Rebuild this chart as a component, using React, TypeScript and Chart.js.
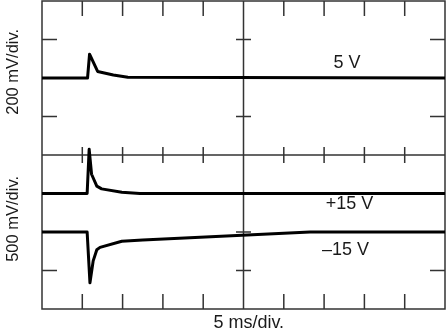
import React, { useEffect, useRef } from "react";
import { Chart, registerables } from "chart.js";

Chart.register(...registerables);

// Oscilloscope screen: 10 horizontal divisions (5 ms/div), 8 vertical divisions
const X_DIVS = 10;
const Y_DIVS = 8;

// 5 V trace (top half, 200 mV/div)
const v5X = [0, 1.13, 1.18, 1.38, 1.77, 2.13, 10];
const v5Y = [6, 6, 6.62, 6.17, 6.08, 6.02, 6];

// +15 V trace (bottom half, 500 mV/div)
const p15X = [0, 1.12, 1.17, 1.23, 1.36, 1.48, 1.98, 2.43, 10];
const p15Y = [3, 3, 4.15, 3.5, 3.19, 3.12, 3.03, 3.0, 3];

// -15 V trace (bottom half, 500 mV/div)
const m15X = [0, 1.12, 1.19, 1.27, 1.36, 1.44, 1.98, 2.5, 6.65, 10];
const m15Y = [2, 2, 0.68, 1.25, 1.54, 1.6, 1.76, 1.79, 2.0, 2.0];

const traceLabels = ["5 V", "+15 V", "\u201315 V"];
const yTitles = ["200 mV/div.", "500 mV/div."];
const xTitle = "5 ms/div.";

const toPts = (xs: number[], ys: number[]) => xs.map((x, i) => ({ x, y: ys[i] }));

const FONT = '18px "Liberation Sans", Arial, Helvetica, sans-serif';
const YFONT = '16.5px "Liberation Sans", Arial, Helvetica, sans-serif';

const scopePlugin = {
  id: "scope",
  beforeDatasetsDraw(chart: any) {
    const { ctx, chartArea } = chart;
    const xs = chart.scales.x;
    const ys = chart.scales.y;
    const L = chartArea.left, R = chartArea.right, T = chartArea.top, B = chartArea.bottom;
    const px = (v: number) => xs.getPixelForValue(v);
    const py = (v: number) => ys.getPixelForValue(v);
    ctx.save();
    ctx.strokeStyle = "#333";
    ctx.lineWidth = 1.5;
    ctx.beginPath();
    ctx.rect(L, T, R - L, B - T);
    // center lines
    ctx.moveTo(L, py(Y_DIVS / 2));
    ctx.lineTo(R, py(Y_DIVS / 2));
    ctx.moveTo(px(X_DIVS / 2), T);
    ctx.lineTo(px(X_DIVS / 2), B);
    const longT = 15;
    const shortT = 8;
    for (let i = 1; i < X_DIVS; i++) {
      if (i === X_DIVS / 2) continue;
      const x = px(i);
      ctx.moveTo(x, T);
      ctx.lineTo(x, T + longT);
      ctx.moveTo(x, B);
      ctx.lineTo(x, B - longT);
      const m = py(Y_DIVS / 2);
      ctx.moveTo(x, m - shortT);
      ctx.lineTo(x, m + shortT);
    }
    for (let j = 1; j < Y_DIVS; j++) {
      if (j === Y_DIVS / 2) continue;
      const y = py(j);
      ctx.moveTo(L, y);
      ctx.lineTo(L + longT, y);
      ctx.moveTo(R, y);
      ctx.lineTo(R - longT, y);
      const c = px(X_DIVS / 2);
      ctx.moveTo(c - 7.5, y);
      ctx.lineTo(c + 7.5, y);
    }
    ctx.stroke();
    ctx.restore();
  },
  afterDraw(chart: any) {
    const { ctx, chartArea } = chart;
    const xs = chart.scales.x;
    const ys = chart.scales.y;
    const px = (v: number) => xs.getPixelForValue(v);
    const py = (v: number) => ys.getPixelForValue(v);
    ctx.save();
    ctx.fillStyle = "#1a1a1a";
    ctx.font = FONT;
    ctx.textAlign = "center";
    ctx.textBaseline = "middle";
    ctx.fillText(traceLabels[0], px(7.57), py(6.4));
    ctx.fillText(traceLabels[1], px(7.63), py(2.72));
    ctx.fillText(traceLabels[2], px(7.53), py(1.52));
    ctx.fillText(xTitle, px(5.13), chartArea.bottom + 14.5);
    ctx.font = YFONT;
    ctx.save();
    ctx.translate(13, py(6.16));
    ctx.rotate(-Math.PI / 2);
    ctx.fillText(yTitles[0], 0, 0);
    ctx.restore();
    ctx.save();
    ctx.translate(13, py(2.34));
    ctx.rotate(-Math.PI / 2);
    ctx.fillText(yTitles[1], 0, 0);
    ctx.restore();
    ctx.restore();
  },
};

export default function App() {
  const ref = useRef<HTMLCanvasElement>(null);
  useEffect(() => {
    if (!ref.current) return;
    const mk = (xs: number[], ys: number[]) => ({
      data: toPts(xs, ys),
      borderColor: "#000",
      borderWidth: 3,
      pointRadius: 0,
      tension: 0,
      fill: false,
      borderJoinStyle: "round" as const,
    });
    const chart = new Chart(ref.current, {
      type: "line",
      data: {
        datasets: [mk(v5X, v5Y), mk(p15X, p15Y), mk(m15X, m15Y)],
      },
      options: {
        animation: false,
        responsive: false,
        maintainAspectRatio: false,
        layout: { padding: { left: 42, right: 3, top: 1, bottom: 26 } },
        plugins: { legend: { display: false }, tooltip: { enabled: false } },
        scales: {
          x: { type: "linear", min: 0, max: X_DIVS, display: false },
          y: { type: "linear", min: 0, max: Y_DIVS, display: false },
        },
      },
      plugins: [scopePlugin],
    });
    return () => chart.destroy();
  }, []);
  return (
    <div style={{ position: "fixed", left: 0, top: 0, width: 448, height: 335, background: "#fff" }}>
      <canvas ref={ref} width={448} height={335} />
    </div>
  );
}
